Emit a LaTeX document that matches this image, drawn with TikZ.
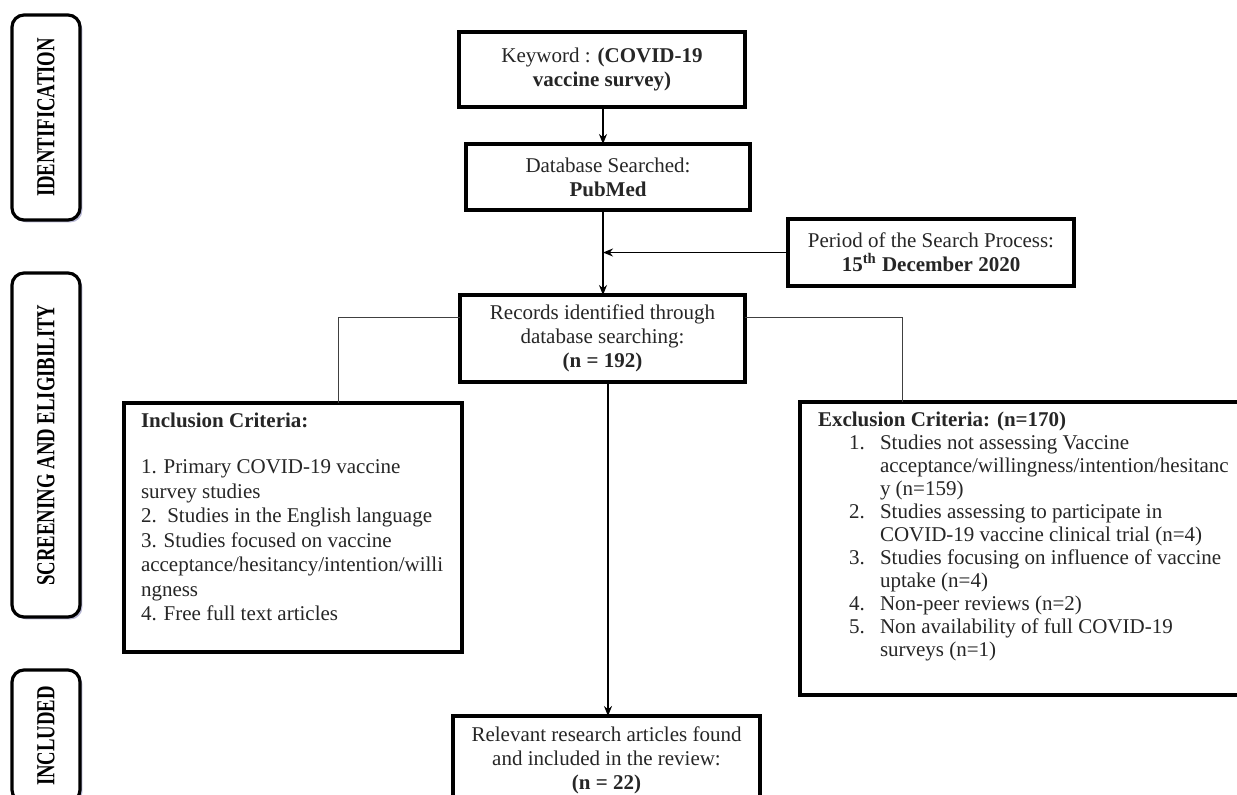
\documentclass[tikz,border=0pt]{standalone}
\usepackage{fontspec}
\setmainfont{Liberation Serif}
\usetikzlibrary{arrows.meta,calc,shadows}
\begin{document}
\begin{tikzpicture}[x=0.5pt,y=-0.5pt,
  box/.style={draw=black, line width=1.6pt, fill=white, inner sep=0pt, outer sep=0pt,
    align=center, font=\fontsize{10.5}{12}\selectfont, text=black!85},
  sidebox/.style={draw=black, line width=1.6pt, rounded corners=6pt, fill=white,
    inner sep=0pt, outer sep=0pt,
    drop shadow={shadow xshift=1.2pt, shadow yshift=-1.2pt, fill=blue!25!gray, opacity=0.45}},
  sidetext/.style={font=\fontsize{13}{13}\selectfont\bfseries},
  conn/.style={line width=0.8pt, -{Stealth[length=5pt,width=4pt]}},
  thinline/.style={line width=0.5pt, draw=black!75}]

\useasboundingbox (0,0) rectangle (1237,794);

% phase labels
\node[sidebox, minimum width=34pt, minimum height=102.5pt] (ident) at (46,117.5)
  {\rotatebox{90}{\scalebox{0.72}[1]{\fontsize{13}{13}\selectfont\bfseries IDENTIFICATION}}};
\node[sidebox, minimum width=34pt, minimum height=172pt] (screen) at (46,445)
  {\rotatebox{90}{\scalebox{0.72}[1]{\fontsize{13}{13}\selectfont\bfseries SCREENING AND ELIGIBILITY}}};
\node[sidebox, minimum width=34pt, minimum height=66pt] (inclab) at (46,736)
  {\rotatebox{90}{\scalebox{0.72}[1]{\fontsize{13}{13}\selectfont\bfseries INCLUDED}}};

% main boxes
\node[box, minimum width=143pt, minimum height=37.5pt] (kw) at (602,69.5)
  {Keyword : \textbf{(COVID-19}\\\textbf{vaccine survey)}};
\node[box, minimum width=142pt, minimum height=33pt] (db) at (608,177)
  {Database Searched:\\\textbf{PubMed}};
\node[box, minimum width=143pt, minimum height=33.5pt] (period) at (931,252.5)
  {Period of the Search Process:\\\textbf{15\textsuperscript{th} December 2020}};
\node[box, minimum width=142.5pt, minimum height=43.5pt] (rec) at (602.5,338.5)
  {Records identified through\\database searching:\\\textbf{(n = 192)}};
\node[box, minimum width=169pt, minimum height=124.5pt] (incl) at (293,527.5)
  {\parbox[c][124.5pt][t]{169pt}{\fontsize{10.5}{12.25}\selectfont\raggedright
    \vspace*{5pt}\leftskip=8.5pt
    \textbf{Inclusion Criteria:}\\[10.75pt]
    1. Primary COVID-19 vaccine\\
    survey studies\\
    2.\ \ Studies in the English language\\
    3. Studies focused on vaccine\\
    acceptance/hesitancy/intention/willi\\
    ngness\\
    4. Free full text articles}};
\node[box, minimum width=220pt, minimum height=146.5pt] (excl) at (1020,548.5)
  {\parbox[c][146.5pt][t]{220pt}{\fontsize{10.5}{11.5}\selectfont\raggedright
    \vspace*{5pt}\leftskip=9pt
    \textbf{Exclusion Criteria: (n=170)}\\
    \hspace*{15.5pt}\makebox[15.5pt][l]{1.}Studies not assessing Vaccine\\
    \hspace*{31pt}acceptance/willingness/intention/hesitanc\\
    \hspace*{31pt}y (n=159)\\
    \hspace*{15.5pt}\makebox[15.5pt][l]{2.}Studies assessing to participate in\\
    \hspace*{31pt}COVID-19 vaccine clinical trial (n=4)\\
    \hspace*{15.5pt}\makebox[15.5pt][l]{3.}Studies focusing on influence of vaccine\\
    \hspace*{31pt}uptake (n=4)\\
    \hspace*{15.5pt}\makebox[15.5pt][l]{4.}Non-peer reviews (n=2)\\
    \hspace*{15.5pt}\makebox[15.5pt][l]{5.}Non availability of full COVID-19\\
    \hspace*{31pt}surveys (n=1)}};
\node[box, minimum width=153.5pt, minimum height=44pt] (rel) at (606.5,760)
  {Relevant research articles found\\and included in the review:\\\textbf{(n = 22)}};

% connectors
\coordinate (j) at (603,252);
\draw[conn] (kw.south -| j) -- (j |- db.north);
\draw[conn] (db.south -| j) -- (j |- rec.north);
\draw[conn] (period.west) -- (j |- period.west);
\draw[thinline] ($(rec.north west)+(0,22)$) -| ($(incl.north)+(45,0)$);
\draw[thinline] ($(rec.north east)+(0,22)$) -| ($(excl.north)+(-118,0)$);
\draw[conn] ($(rec.south)+(5.5,0)$) -- ($(rel.north)+(1.5,0)$);
\end{tikzpicture}
\end{document}
